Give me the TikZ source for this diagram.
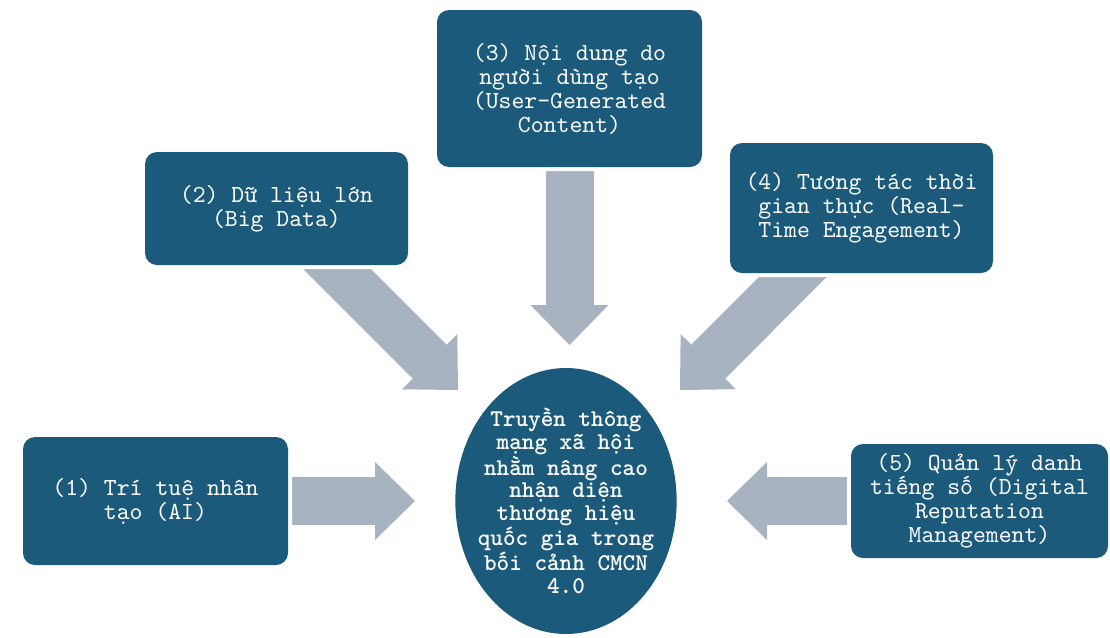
\documentclass[tikz,border=0pt]{standalone}
\usepackage{fontspec}
\setmonofont{lmmono10-regular.otf}[BoldFont=lmmonolt10-bold.otf]
\usepackage{tikz}
\usetikzlibrary{arrows.meta, backgrounds, shapes.geometric}

\definecolor{boxblue}{HTML}{1B5A7A}
\definecolor{arrowgrey}{HTML}{A7B3C1}

\begin{document}
\begin{tikzpicture}[
  x=0.75pt, y=-0.75pt,
  box/.style={fill=boxblue, rounded corners=9pt, text=white, align=center,
              inner sep=0pt, font=\ttfamily\fontsize{18.4}{18}\selectfont,
              preaction={draw=white, line width=6pt}},
  hub/.style={ellipse, fill=boxblue, text=white, align=center, inner sep=-30pt,
              minimum width=166pt, minimum height=199.5pt,
              font=\ttfamily\bfseries\fontsize{18}{17}\selectfont},
  bigarrow/.style={draw=arrowgrey, line width=36pt,
                   -{Triangle[length=30pt, width=58.5pt, line width=0pt, color=arrowgrey]}}
]
  \useasboundingbox (0,0) rectangle (1110,637);

  \node[hub] (hub) at (566,501)
    {Truyền thông\\mạng xã hội\\nhằm nâng cao\\nhận diện\\thương hiệu\\quốc gia trong\\bối cảnh CMCN\\4.0};

  \node[box, minimum width=198.75pt, minimum height=96pt]   (ai)   at (155.5,501)
    {(1) Trí tuệ nhân\\tạo (AI)};
  \node[box, minimum width=197.25pt, minimum height=84.75pt] (data) at (276.5,208.5)
    {(2) Dữ liệu lớn\\(Big Data)};
  \node[box, minimum width=198.75pt, minimum height=117.75pt] (ugc) at (569.5,88.5)
    {(3) Nội dung do\\người dùng tạo\\(User-Generated\\Content)};
  \node[box, minimum width=197.25pt, minimum height=97.5pt] (rte)  at (861.5,208)
    {(4) Tương tác thời\\gian thực (Real-\\Time Engagement)};
  \node[box, minimum width=192.75pt, minimum height=85.5pt] (drm)  at (979.5,501)
    {(5) Quản lý danh\\tiếng số (Digital\\Reputation\\Management)};

  \coordinate (tip1) at (415,501);
  \coordinate (tip2) at (458,390);
  \coordinate (tip3) at (569.5,345);
  \coordinate (tip4) at (680,390);
  \coordinate (tip5) at (727,501);

  \begin{scope}[on background layer]
    \draw[bigarrow] (ai.center)   -- (tip1);
    \draw[bigarrow] (data.center) -- (tip2);
    \draw[bigarrow] (ugc.center)  -- (tip3);
    \draw[bigarrow] (rte.center)  -- (tip4);
    \draw[bigarrow] (drm.center)  -- (tip5);
  \end{scope}
\end{tikzpicture}
\end{document}
